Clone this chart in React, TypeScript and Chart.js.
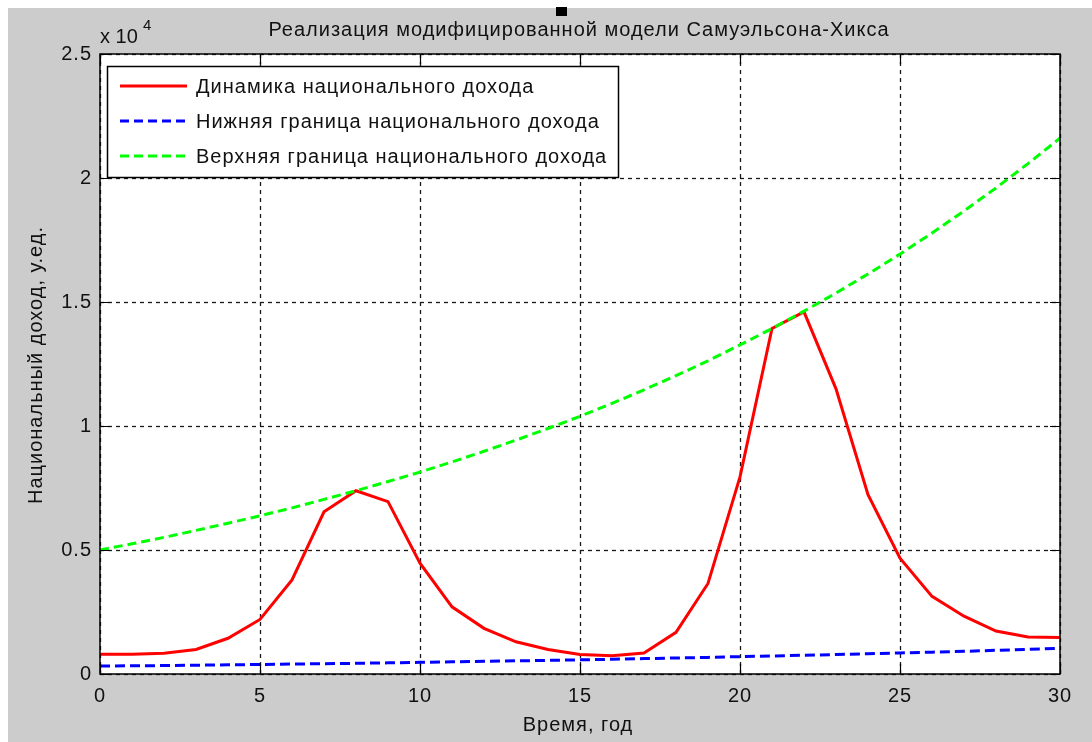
import React, { useEffect, useRef } from "react";
import { Chart, registerables } from "chart.js";

Chart.register(...registerables);

// Time axis, years
const years = [
  0, 1, 2, 3, 4, 5, 6, 7, 8, 9, 10, 11, 12, 13, 14, 15, 16, 17, 18, 19, 20,
  21, 22, 23, 24, 25, 26, 27, 28, 29, 30,
];

// National income dynamics
const incomeDynamics = [
  800, 800, 840, 990, 1440, 2200, 3790, 6540, 7390, 6950, 4470, 2710, 1840,
  1300, 990, 790, 740, 850, 1680, 3650, 7950, 13930, 14600, 11500, 7230, 4670,
  3130, 2330, 1730, 1490, 1470,
];

// Lower bound of national income
const lowerBound = [
  320, 330, 340, 355, 370, 385, 400, 415, 430, 450, 470, 490, 510, 530, 550,
  570, 595, 620, 645, 670, 700, 725, 755, 785, 815, 850, 880, 915, 955, 995,
  1035,
];

// Upper bound of national income
const upperBound = [
  5000, 5250, 5510, 5790, 6080, 6380, 6700, 7040, 7390, 7760, 8140, 8550, 8980,
  9430, 9900, 10390, 10910, 11460, 12030, 12630, 13270, 13930, 14630, 15360,
  16130, 16930, 17780, 18670, 19600, 20580, 21610,
];

const xTicks = [0, 5, 10, 15, 20, 25, 30];
const yTicks = [0, 5000, 10000, 15000, 20000, 25000];

const seriesNames = [
  "Динамика национального дохода",
  "Нижняя граница национального дохода",
  "Верхняя граница национального дохода",
];
const seriesColors = ["#ff0000", "#0000ff", "#00ff00"];

const titleText = "Реализация модифицированной модели Самуэльсона-Хикса";
const xTitle = "Время, год";
const yTitle = "Национальный доход, у.ед.";

const FONT = "'Liberation Sans', Arial, sans-serif";
const TEXT = "#111111";

const toPoints = (values: number[]) =>
  years.map((t, i) => ({ x: t, y: values[i] }));

const framePlugin = {
  id: "frameDecor",
  beforeDraw(chart: any) {
    const { ctx, chartArea: a } = chart;
    // wider glyph spacing for every label on the canvas
    (ctx as any).letterSpacing = "1px";
    ctx.save();
    ctx.fillStyle = "#ffffff";
    ctx.fillRect(a.left, a.top, a.right - a.left, a.bottom - a.top);
    ctx.restore();
  },
  beforeDatasetsDraw(chart: any) {
    const { ctx, chartArea: a, scales } = chart;
    ctx.save();
    ctx.strokeStyle = "#1a1a1a";
    ctx.lineWidth = 1.3;
    ctx.setLineDash([4, 4]);
    for (const t of xTicks) {
      const x = Math.round(scales.x.getPixelForValue(t)) + 0.5;
      ctx.beginPath();
      ctx.moveTo(x, a.top);
      ctx.lineTo(x, a.bottom);
      ctx.stroke();
    }
    for (const v of yTicks) {
      const y = Math.round(scales.y.getPixelForValue(v)) + 0.5;
      ctx.beginPath();
      ctx.moveTo(a.left, y);
      ctx.lineTo(a.right, y);
      ctx.stroke();
    }
    ctx.restore();
  },
  afterDatasetsDraw(chart: any) {
    const { ctx, chartArea: a, scales } = chart;
    const tick = 10;
    ctx.save();
    ctx.strokeStyle = "#000000";
    ctx.lineWidth = 1.5;
    ctx.setLineDash([]);
    ctx.strokeRect(a.left, a.top, a.right - a.left, a.bottom - a.top);
    ctx.lineWidth = 1.2;
    for (const t of xTicks) {
      const x = Math.round(scales.x.getPixelForValue(t)) + 0.5;
      ctx.beginPath();
      ctx.moveTo(x, a.bottom);
      ctx.lineTo(x, a.bottom - tick);
      ctx.moveTo(x, a.top);
      ctx.lineTo(x, a.top + tick);
      ctx.stroke();
    }
    for (const v of yTicks) {
      const y = Math.round(scales.y.getPixelForValue(v)) + 0.5;
      ctx.beginPath();
      ctx.moveTo(a.left, y);
      ctx.lineTo(a.left + tick, y);
      ctx.moveTo(a.right, y);
      ctx.lineTo(a.right - tick, y);
      ctx.stroke();
    }
    ctx.restore();
  },
  afterDraw(chart: any) {
    const { ctx, chartArea: a } = chart;
    ctx.save();
    (ctx as any).letterSpacing = "1px";
    ctx.fillStyle = TEXT;

    // title
    ctx.font = `20px ${FONT}`;
    ctx.textAlign = "center";
    ctx.textBaseline = "middle";
    ctx.fillText(titleText, 571, 22);

    // axis titles
    ctx.fillText(xTitle, (a.left + a.right) / 2 - 2, 717);
    ctx.save();
    ctx.translate(28, (a.top + a.bottom) / 2 + 1);
    ctx.rotate(-Math.PI / 2);
    ctx.fillText(yTitle, 0, 0);
    ctx.restore();

    // exponent marker
    ctx.textAlign = "left";
    ctx.textBaseline = "alphabetic";
    (ctx as any).letterSpacing = "0px";
    ctx.fillText("x 10", a.left, 35);
    ctx.font = `15px ${FONT}`;
    ctx.fillText("4", a.left + 43, 22);
    (ctx as any).letterSpacing = "1px";

    // legend
    const box = { x: 99.5, y: 58.5, w: 511, h: 111 };
    ctx.fillStyle = "#ffffff";
    ctx.fillRect(box.x, box.y, box.w, box.h);
    ctx.strokeStyle = "#000000";
    ctx.lineWidth = 1.5;
    ctx.strokeRect(box.x, box.y, box.w, box.h);
    const rows = [78, 113, 148];
    const dashes = [[], [9, 5], [9, 5]];
    ctx.font = `20px ${FONT}`;
    ctx.textBaseline = "middle";
    rows.forEach((ry, i) => {
      ctx.strokeStyle = seriesColors[i];
      ctx.lineWidth = 3;
      ctx.setLineDash(dashes[i]);
      ctx.beginPath();
      ctx.moveTo(112, ry);
      ctx.lineTo(179, ry);
      ctx.stroke();
      ctx.setLineDash([]);
      ctx.fillStyle = TEXT;
      ctx.fillText(seriesNames[i], 188, ry + 1);
    });
    ctx.restore();
  },
};

export default function App() {
  const canvasRef = useRef<HTMLCanvasElement | null>(null);

  useEffect(() => {
    const canvas = canvasRef.current;
    if (!canvas) return;
    const chart = new Chart(canvas, {
      type: "line",
      data: {
        datasets: [
          {
            label: seriesNames[0],
            data: toPoints(incomeDynamics),
            borderColor: seriesColors[0],
            borderWidth: 3,
            pointRadius: 0,
            tension: 0,
            order: 3,
          },
          {
            label: seriesNames[1],
            data: toPoints(lowerBound),
            borderColor: seriesColors[1],
            borderWidth: 3,
            borderDash: [10, 5],
            pointRadius: 0,
            tension: 0,
            order: 2,
          },
          {
            label: seriesNames[2],
            data: toPoints(upperBound),
            borderColor: seriesColors[2],
            borderWidth: 3,
            borderDash: [9, 5],
            pointRadius: 0,
            tension: 0,
            order: 1,
          },
        ],
      },
      options: {
        animation: false,
        responsive: false,
        events: [],
        layout: { padding: { left: 0, top: 46, right: 32, bottom: 0 } },
        plugins: {
          legend: { display: false },
          tooltip: { enabled: false },
          title: { display: false },
        },
        scales: {
          x: {
            type: "linear",
            min: 0,
            max: 30,
            afterFit: (s: any) => {
              s.height = 68;
            },
            afterBuildTicks: (s: any) => {
              s.ticks = xTicks.map((v) => ({ value: v }));
            },
            grid: { display: false, drawTicks: false },
            border: { display: false },
            ticks: {
              padding: 10,
              color: TEXT,
              font: { family: FONT, size: 20 },
              maxRotation: 0,
              callback: (v: any) => String(v),
            },
          },
          y: {
            type: "linear",
            min: 0,
            max: 25000,
            afterFit: (s: any) => {
              s.width = 92;
            },
            afterBuildTicks: (s: any) => {
              s.ticks = yTicks.map((v) => ({ value: v }));
            },
            grid: { display: false, drawTicks: false },
            border: { display: false },
            ticks: {
              padding: 8,
              color: TEXT,
              font: { family: FONT, size: 20 },
              callback: (v: any) => String(Number(v) / 10000),
            },
          },
        },
      },
      plugins: [framePlugin],
    });
    return () => chart.destroy();
  }, []);

  return (
    <>
      <div
        style={{
          position: "fixed",
          left: 8,
          top: 8,
          width: 1084,
          height: 734,
          background: "#cccccc",
        }}
      >
        <canvas
          ref={canvasRef}
          width={1084}
          height={734}
          style={{ display: "block", width: 1084, height: 734 }}
        />
      </div>
      <div
        style={{
          position: "fixed",
          left: 556,
          top: 7,
          width: 11,
          height: 9,
          background: "#000000",
        }}
      />
    </>
  );
}
